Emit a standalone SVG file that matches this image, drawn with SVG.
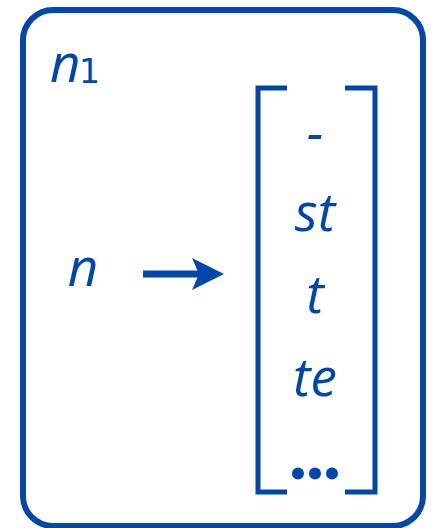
<svg xmlns="http://www.w3.org/2000/svg" width="432" height="528" viewBox="0 0 432 528">
<style>
.ln{fill:none;stroke:#0047ab;stroke-width:6}
.br{fill:none;stroke:#0047ab;stroke-width:5;stroke-linecap:butt}
.t{font-family:"Open Sans","Liberation Sans",sans-serif;font-style:italic;font-size:53px;fill:#0047ab;text-anchor:middle}
.s{font-family:"DejaVu Sans","Liberation Sans",sans-serif;font-size:33px;fill:#0047ab}
</style>
<rect width="432" height="528" fill="#ffffff"/>
<g id="box">
<rect class="ln" x="23" y="10" width="400" height="516" rx="30" ry="30"/>
<text x="50" y="82" font-family="Open Sans, Liberation Sans, sans-serif" font-style="italic" font-size="53" fill="#0047ab">n</text>
<text class="s" x="79" y="83">1</text>
</g>
<g id="source">
<text class="t" x="83" y="286">n</text>
</g>
<g id="list">
<path class="br" d="M287,88 H258 V492 H287"/>
<path class="br" d="M345,88 H375 V492 H345"/>
<text class="t" x="315" y="151">-</text>
<text class="t" x="315" y="231">st</text>
<text class="t" x="315" y="313">t</text>
<text class="t" x="315" y="396">te</text>
<circle cx="298" cy="473.5" r="6" fill="#0047ab"/>
<circle cx="315" cy="473.5" r="6" fill="#0047ab"/>
<circle cx="332" cy="473.5" r="6" fill="#0047ab"/>
</g>
<g id="connectors">
<line x1="143" y1="274" x2="202" y2="274" stroke="#0047ab" stroke-width="7"/>
<polygon points="224,274 192,258 199,274 192,290" fill="#0047ab"/>
</g>
</svg>
